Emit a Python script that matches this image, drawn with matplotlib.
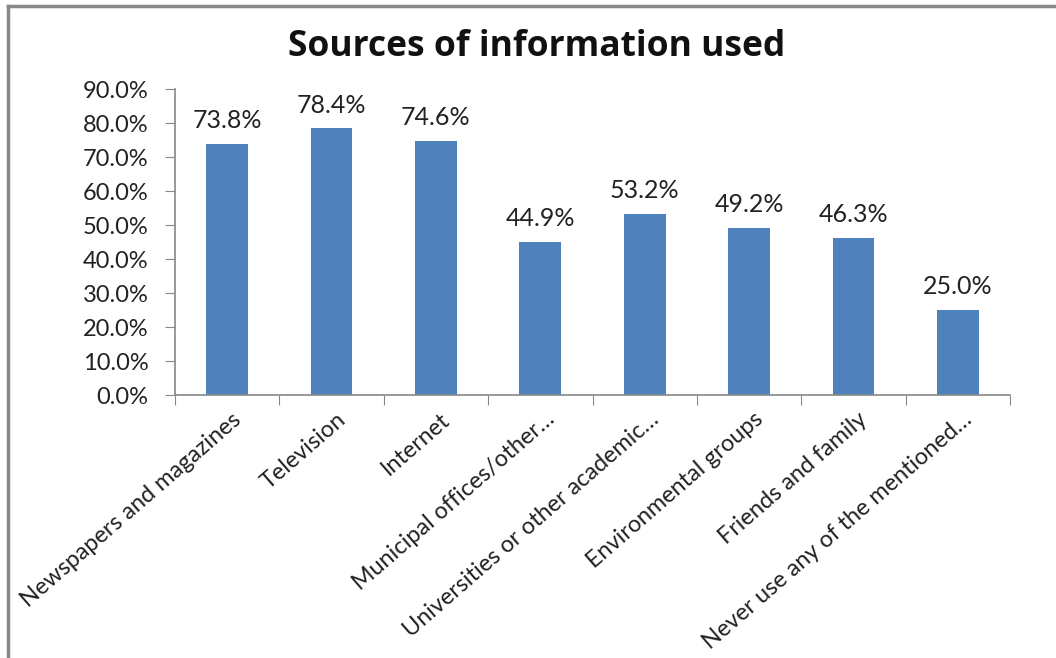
import matplotlib
matplotlib.use('Agg')
import matplotlib.pyplot as plt
import numpy as np

categories = ["Newspapers and magazines", "Television", "Internet",
              "Municipal offices/other\u2026", "Universities or other academic\u2026",
              "Environmental groups", "Friends and family",
              "Never use any of the mentioned\u2026"]
values = [73.8, 78.4, 74.6, 44.9, 53.2, 49.2, 46.3, 25.0]
yticks = [0, 10, 20, 30, 40, 50, 60, 70, 80, 90]

plt.rcParams['font.family'] = ['Lato', 'DejaVu Sans']

fig = plt.figure(figsize=(10.56, 6.58), dpi=100)
ax = fig.add_axes([175 / 1056, 1 - 395 / 658, 835 / 1056, 306 / 658])

x = np.arange(len(categories))
ax.bar(x, values, width=0.4, color='#4F81BD')

for xi, v in zip(x, values):
    ax.text(xi, v + 3.5, f"{v:.1f}%", ha='center', va='bottom', fontsize=18, color='#222222')

ax.set_xlim(-0.5, len(categories) - 0.5)
ax.set_ylim(0, 90)
ax.set_yticks(yticks)
ax.set_yticklabels([f"{t:.1f}%" for t in yticks], fontsize=17, color='#222222')

ax.set_xticks(np.arange(len(categories) + 1) - 0.5)
ax.set_xticklabels([])
ax.tick_params(axis='x', length=7, color='#888888', direction='out')
ax.tick_params(axis='y', length=7, color='#888888', direction='out', pad=12)
for xi, lab in zip(x, categories):
    ax.text(xi + 0.04, -4, lab, rotation=41, ha='right', va='top',
            rotation_mode='anchor', fontsize=16.8, color='#222222')

for s in ['top', 'right']:
    ax.spines[s].set_visible(False)
for s in ['left', 'bottom']:
    ax.spines[s].set_color('#888888')
    ax.spines[s].set_linewidth(1.2)

fig.text(537 / 1056, 1 - 47 / 658, "Sources of information used", ha='center', va='center',
         fontsize=25.5, fontweight='bold', color='#111111', family=['Open Sans', 'DejaVu Sans'])

# outer frame (only top and left visible in original)
fig.add_artist(plt.Line2D([8 / 1056, 8 / 1056], [0, 1 - 6 / 658], color='#888888', lw=2.5))
fig.add_artist(plt.Line2D([8 / 1056, 1], [1 - 6 / 658, 1 - 6 / 658], color='#888888', lw=2.5))

fig.savefig('out.png', dpi=100)
